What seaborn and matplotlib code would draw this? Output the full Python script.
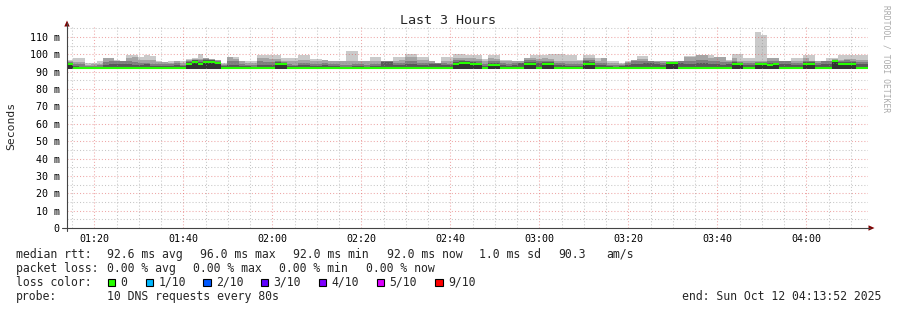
import numpy as np
import pandas as pd
import matplotlib
matplotlib.use("Agg")
import matplotlib.pyplot as plt
import seaborn as sns
from matplotlib.patches import Rectangle, Polygon
from matplotlib.lines import Line2D

# ---------------- data (ms), one value per 80 s step ----------------
start_minute = 73 + 52 / 60.0          # 01:13:52
step_minutes = 80 / 60.0

med = [94.3, 92.0, 92.0, 92.0, 92.0, 92.0, 92.0, 92.0, 92.0, 92.0,
       92.0, 92.0, 92.0, 92.0, 92.0, 92.0, 92.0, 92.0, 92.0, 92.0,
       94.3, 95.8, 94.3, 95.8, 95.8, 95.0, 92.0, 92.0, 92.0, 92.0,
       92.0, 92.0, 92.0, 92.0, 92.0, 94.5, 94.5, 92.0, 92.0, 92.0,
       92.0, 92.0, 92.0, 92.0, 92.0, 92.0, 92.0, 92.0, 92.0, 92.0,
       92.0, 92.0, 92.0, 92.0, 92.0, 92.0, 92.0, 92.0, 92.0, 92.0,
       92.0, 92.0, 92.0, 92.0, 92.0, 94.3, 95.3, 95.3, 94.3, 94.3,
       92.0, 94.1, 94.1, 92.0, 92.0, 92.0, 92.0, 94.3, 94.3, 92.0,
       94.3, 94.3, 92.0, 92.0, 92.0, 92.0, 92.0, 94.5, 94.5, 92.0,
       92.0, 92.0, 92.0, 92.0, 92.0, 92.0, 92.0, 92.0, 92.0, 92.0,
       92.0, 94.8, 94.8, 92.0, 92.0, 92.0, 92.0, 92.0, 92.0, 92.0,
       92.0, 92.0, 94.5, 94.5, 92.0, 92.0, 94.3, 94.3, 94.0, 94.3,
       92.0, 92.0, 92.0, 92.0, 94.5, 94.5, 92.0, 92.0, 92.0, 96.0,
       94.3, 94.3, 94.3, 92.0, 92.0]

ping_min = [91.8, 92.0, 92.0, 92.0, 92.0, 92.0, 92.0, 92.0, 92.0, 92.0,
            92.0, 92.0, 92.0, 92.0, 92.0, 92.0, 92.0, 92.0, 92.0, 92.0,
            91.8, 91.8, 91.8, 91.8, 91.8, 91.8, 92.0, 92.0, 92.0, 92.0,
            92.0, 92.0, 92.0, 92.0, 92.0, 91.8, 91.8, 92.0, 92.0, 92.0,
            92.0, 92.0, 92.0, 92.0, 92.0, 92.0, 92.0, 92.0, 92.0, 92.0,
            92.0, 92.0, 92.0, 92.0, 92.0, 92.0, 92.0, 92.0, 92.0, 92.0,
            92.0, 92.0, 92.0, 92.0, 92.0, 91.8, 91.8, 91.8, 91.8, 91.8,
            92.0, 91.8, 91.8, 92.0, 92.0, 92.0, 92.0, 91.8, 91.8, 92.0,
            91.8, 91.8, 92.0, 92.0, 92.0, 92.0, 92.0, 91.8, 91.8, 92.0,
            92.0, 92.0, 92.0, 92.0, 92.0, 92.0, 92.0, 92.0, 92.0, 92.0,
            92.0, 91.8, 91.8, 92.0, 92.0, 92.0, 92.0, 92.0, 92.0, 92.0,
            92.0, 92.0, 91.8, 91.8, 92.0, 92.0, 91.8, 91.8, 91.8, 91.8,
            92.0, 92.0, 92.0, 92.0, 91.8, 91.8, 92.0, 92.0, 92.0, 91.8,
            91.8, 91.8, 91.8, 92.0, 92.0]

ping_max = [96.5, 97.9, 97.9, 94.8, 95.0, 96.0, 97.9, 97.9, 96.5, 96.0,
            99.9, 99.9, 98.5, 99.5, 99.0, 96.0, 95.5, 96.0, 96.0, 96.0,
            97.5, 97.9, 100.0, 97.9, 97.5, 97.0, 95.0, 98.3, 98.3, 96.0,
            96.0, 96.0, 99.9, 99.9, 99.9, 99.9, 98.0, 98.0, 98.0, 99.9,
            99.9, 97.5, 97.5, 97.0, 96.0, 96.0, 96.0, 102.2, 102.2, 96.0,
            96.0, 98.3, 98.3, 96.0, 96.0, 98.3, 98.3, 100.2, 100.2, 98.3,
            98.3, 96.0, 95.0, 98.3, 98.3, 100.0, 100.0, 99.9, 99.9, 99.9,
            97.5, 99.9, 99.9, 97.0, 97.0, 96.0, 96.0, 97.9, 99.9, 99.9,
            99.9, 100.2, 100.2, 100.2, 99.9, 99.9, 97.0, 99.9, 99.9, 97.9,
            97.9, 96.0, 96.0, 95.0, 96.0, 97.0, 99.0, 99.0, 96.0, 96.0,
            96.0, 96.0, 96.0, 96.0, 98.9, 98.9, 99.9, 99.9, 99.9, 98.3,
            98.3, 97.0, 100.2, 100.2, 97.9, 97.9, 113.0, 111.1, 98.0, 98.0,
            96.0, 96.0, 97.9, 97.9, 99.9, 99.9, 96.0, 96.0, 97.9, 97.9,
            99.9, 99.9, 99.9, 99.9, 99.9]

ping_p9 = [96.0, 95.5, 95.5, 94.0, 94.5, 94.5, 97.9, 97.9, 96.0, 96.0,
           97.9, 98.5, 97.0, 96.5, 96.5, 95.5, 95.5, 95.0, 95.9, 95.0,
           96.5, 97.5, 97.5, 97.9, 97.5, 96.5, 94.5, 98.3, 97.5, 96.0,
           95.0, 95.0, 98.0, 97.9, 97.5, 97.5, 96.0, 96.0, 96.0, 97.0,
           97.0, 96.0, 96.0, 97.0, 96.0, 96.0, 96.0, 96.0, 96.0, 96.0,
           96.0, 96.0, 96.0, 96.0, 96.0, 96.0, 96.5, 98.3, 98.3, 97.0,
           97.0, 96.0, 95.0, 96.0, 96.0, 97.9, 97.9, 97.9, 97.9, 97.5,
           96.0, 97.9, 97.5, 96.0, 96.0, 96.0, 96.0, 97.9, 97.9, 97.5,
           97.9, 97.5, 96.0, 96.0, 96.0, 96.0, 96.0, 97.9, 97.9, 96.0,
           97.9, 95.0, 95.0, 94.5, 95.5, 97.0, 97.5, 97.5, 96.0, 96.0,
           96.0, 96.0, 96.0, 96.0, 98.3, 98.3, 99.9, 99.9, 98.0, 98.3,
           98.3, 96.0, 97.9, 96.0, 96.0, 96.0, 96.0, 96.0, 97.9, 97.9,
           96.0, 96.0, 96.0, 96.0, 97.9, 96.0, 96.0, 96.0, 96.0, 97.5,
           97.0, 97.5, 97.5, 97.0, 97.0]

ping_p8 = [95.5, 94.5, 94.5, 93.5, 93.5, 94.0, 95.5, 96.0, 96.0, 96.0,
           96.0, 95.5, 95.0, 95.0, 94.5, 94.5, 94.5, 94.5, 95.0, 94.0,
           96.0, 97.0, 96.5, 97.5, 97.0, 96.0, 94.0, 96.0, 96.0, 94.5,
           94.0, 94.0, 96.0, 95.5, 95.5, 96.0, 95.5, 94.5, 94.0, 95.0,
           95.0, 94.5, 94.5, 95.0, 94.5, 94.5, 94.0, 94.0, 94.5, 94.5,
           94.0, 94.5, 94.5, 96.0, 96.0, 95.0, 95.0, 96.0, 96.0, 95.0,
           95.0, 95.0, 95.0, 95.0, 94.5, 96.5, 97.0, 96.0, 96.0, 96.0,
           94.5, 96.0, 96.0, 95.0, 94.5, 95.0, 95.0, 96.5, 96.5, 96.0,
           96.0, 96.0, 95.0, 95.0, 94.5, 94.5, 94.5, 96.5, 96.5, 95.0,
           95.0, 94.0, 94.0, 94.0, 95.0, 96.0, 96.0, 96.0, 96.0, 95.5,
           95.0, 95.5, 95.5, 96.0, 96.0, 96.0, 96.5, 96.5, 96.0, 96.0,
           95.5, 95.5, 96.0, 95.5, 95.0, 95.0, 95.5, 95.5, 96.0, 96.0,
           96.0, 96.0, 95.0, 95.0, 96.0, 96.0, 95.0, 96.0, 96.0, 97.0,
           96.0, 96.5, 96.0, 95.5, 95.5]

ping_p7 = [95.0, 93.5, 93.0, 93.0, 93.0, 93.0, 94.0, 94.5, 94.5, 94.5,
           94.5, 94.0, 94.0, 94.5, 93.5, 93.5, 93.5, 93.5, 94.0, 93.5,
           95.5, 96.5, 95.5, 97.0, 96.5, 95.8, 93.5, 94.0, 94.0, 93.5,
           93.5, 93.0, 94.0, 94.0, 94.0, 95.5, 95.0, 93.5, 93.5, 94.0,
           94.0, 93.5, 93.5, 94.0, 93.5, 93.5, 93.0, 93.0, 93.5, 93.5,
           93.0, 93.5, 93.5, 95.5, 95.5, 94.0, 94.0, 94.5, 94.5, 94.0,
           94.0, 94.5, 94.5, 94.0, 94.0, 95.5, 96.0, 96.0, 95.5, 95.0,
           93.5, 95.0, 95.0, 94.0, 93.5, 94.0, 95.0, 95.5, 95.5, 95.0,
           95.5, 95.5, 94.0, 94.0, 93.5, 93.5, 93.5, 96.0, 95.5, 94.0,
           94.0, 93.5, 93.0, 93.5, 94.0, 94.5, 94.5, 95.0, 95.0, 94.5,
           94.0, 95.2, 95.2, 95.0, 94.5, 94.5, 95.0, 95.0, 94.5, 94.5,
           94.0, 94.5, 95.5, 95.0, 94.0, 94.0, 95.0, 95.0, 95.0, 95.0,
           94.5, 94.5, 94.0, 94.0, 95.5, 95.5, 94.0, 94.5, 94.5, 96.5,
           95.5, 95.5, 95.5, 94.5, 94.5]

time_ticks = [80, 100, 120, 140, 160, 180, 200, 220, 240]
time_labels = ["01:20", "01:40", "02:00", "02:20", "02:40", "03:00", "03:20", "03:40", "04:00"]
ms_ticks = [0, 10, 20, 30, 40, 50, 60, 70, 80, 90, 100, 110]
ms_labels = ["0", "10 m", "20 m", "30 m", "40 m", "50 m", "60 m", "70 m", "80 m",
             "90 m", "100 m", "110 m"]

loss_labels = ["0", "1/10", "2/10", "3/10", "4/10", "5/10", "9/10"]
loss_colors = ["#26ff00", "#00b8ff", "#0059ff", "#5e00ff", "#7e00ff", "#dd00ff", "#ff0000"]

rtt_row = ["median rtt:", "92.6 ms avg", "96.0 ms max", "92.0 ms min", "92.0 ms now",
           "1.0 ms sd", "90.3", "am/s"]
loss_row = ["packet loss:", "0.00 % avg", "0.00 % max", "0.00 % min", "0.00 % now"]
probe_row = ["probe:", "10 DNS requests every 80s"]
end_text = "end: Sun Oct 12 04:13:52 2025"
title = "Last 3 Hours"

# ---------------- figure ----------------
W, H = 897, 310
sns.set_theme(style="white")
plt.rcParams["font.family"] = ["DejaVu Sans Mono", "DejaVu Sans"]

fig = plt.figure(figsize=(W / 100, H / 100), dpi=100)
fig.patch.set_facecolor("white")

def fx(x):
    return x / W

def fy(y):
    return 1 - y / H

L, R, B, T = 67, 868, 228, 25.7
ax = fig.add_axes([fx(L), fy(B), (R - L) / W, (B - T) / H])
ax.set_facecolor("white")

n = len(med)
edges = start_minute + step_minutes * np.arange(n + 1)

def pad(a):
    a = list(a)
    return np.array(a + [a[-1]])

lo = pad(ping_min)
layers = [(ping_max, "#cacaca"), (ping_p9, "#a4a4a4"), (ping_p8, "#7e7e7e"),
          (ping_p7, "#585858"), (med, "#323232")]
for vals, col in layers:
    ax.fill_between(edges, lo, pad(vals), step="post", color=col, lw=0, zorder=2)

# grid (drawn over the smoke, like rrdtool)
x_min = 75
while x_min < 254:
    if x_min % 20 != 0:
        ax.axvline(x_min, color="#8f8f8f", alpha=0.5, lw=0.75, ls=(0, (1, 2)), zorder=3)
    x_min += 5
for t in time_ticks:
    ax.axvline(t, color="#de5050", alpha=0.5, lw=0.75, ls=(0, (1, 2)), zorder=3)
for v in range(5, 117, 5):
    if v % 10 != 0:
        ax.axhline(v, color="#8f8f8f", alpha=0.5, lw=0.75, ls=(0, (1, 2)), zorder=3)
    else:
        ax.axhline(v, color="#de5050", alpha=0.5, lw=0.75, ls=(0, (1, 2)), zorder=3)

# median line: one horizontal piece per step, coloured by loss
med_df = pd.DataFrame({
    "t": np.repeat(edges[:-1], 2) + np.tile([0.0, step_minutes], n),
    "ms": np.repeat(med, 2),
    "step": np.repeat(np.arange(n), 2),
})
sns.lineplot(data=med_df, x="t", y="ms", units="step", estimator=None, sort=False,
             color=loss_colors[0], lw=1.5, ax=ax, zorder=4, solid_capstyle="butt")

ax.set_xlim(edges[0], edges[-1])
ax.set_ylim(0, (B - T) / ((228 - 37) / 110.0))
ax.set_xticks(time_ticks)
ax.set_xticklabels(time_labels)
ax.set_yticks(ms_ticks)
ax.set_yticklabels(ms_labels)
ax.set_xlabel("")
ax.set_ylabel("")
ax.tick_params(axis="x", length=0, pad=4.6, labelsize=7.2, colors="black")
ax.tick_params(axis="y", length=3, width=0.7, pad=2.2, labelsize=7.2, colors="#333333",
               labelcolor="black", direction="out")
for s in ["top", "right", "left", "bottom"]:
    ax.spines[s].set_visible(False)

# axes with arrows (rrdtool style)
axis_col = "#444444"
fig.add_artist(Line2D([fx(62), fx(870)], [fy(228), fy(228)], color=axis_col, lw=0.8))
fig.add_artist(Line2D([fx(67), fx(67)], [fy(231), fy(23)], color=axis_col, lw=0.8))
fig.add_artist(Polygon([[fx(64.3), fy(26.5)], [fx(69.7), fy(26.5)], [fx(67), fy(20.5)]],
                       closed=True, color="#7f0000", lw=0))
fig.add_artist(Polygon([[fx(868.5), fy(225.3)], [fx(868.5), fy(230.7)], [fx(874.5), fy(228)]],
                       closed=True, color="#7f0000", lw=0))

# titles / labels
fig.text(fx(448), fy(20), title, ha="center", va="center", fontsize=9.6)
fig.text(fx(11), fy(126), "Seconds", ha="center", va="center", rotation=90, fontsize=8.2)
fig.text(fx(886), fy(59), "RRDTOOL / TOBI OETIKER", ha="center", va="center",
         rotation=270, fontsize=5.8, color="#aaaaaa")

fs = 8.3
rtt_x = [16, 107.3, 200, 292.7, 386.7, 479.3, 558.3, 606.7]
for s, x in zip(rtt_row, rtt_x):
    fig.text(fx(x), fy(254.3), s, ha="left", va="center", fontsize=fs)
loss_x = [16, 107.3, 193.3, 279.3, 365.7]
for s, x in zip(loss_row, loss_x):
    fig.text(fx(x), fy(268.3), s, ha="left", va="center", fontsize=fs)

fig.text(fx(16), fy(282.3), "loss color:", ha="left", va="center", fontsize=fs)
box_x = [107.7, 145.7, 203.0, 260.7, 318.7, 376.7, 435.0]
for lab, col, x in zip(loss_labels, loss_colors, box_x):
    fig.add_artist(Rectangle((fx(x), fy(286.2)), 7.6 / W, 7.6 / H, facecolor=col,
                             edgecolor="black", lw=0.8, transform=fig.transFigure))
    fig.text(fx(x + 13), fy(282.3), lab, ha="left", va="center", fontsize=fs)

probe_x = [16, 107.3]
for s, x in zip(probe_row, probe_x):
    fig.text(fx(x), fy(296.3), s, ha="left", va="center", fontsize=fs)
fig.text(fx(881), fy(296.3), end_text, ha="right", va="center", fontsize=fs)

fig.savefig("out.png", dpi=100, facecolor="white")
